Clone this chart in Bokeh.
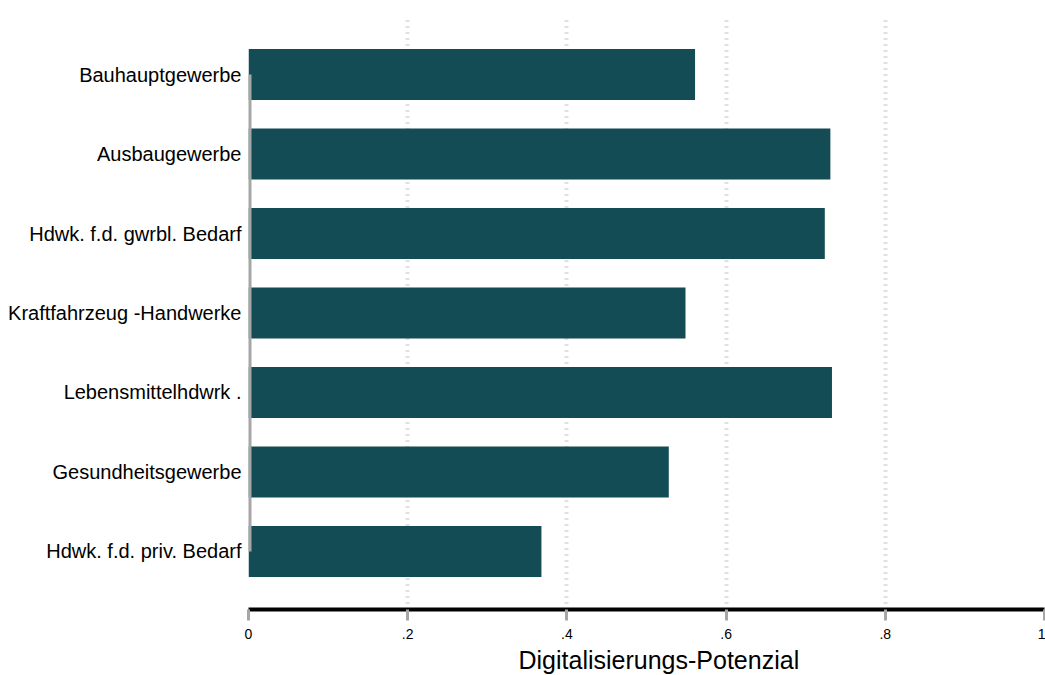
from bokeh.plotting import figure
from bokeh.models import FactorRange, Range1d, FixedTicker, Title
from bokeh.embed import file_html
from bokeh.resources import INLINE

categories = ["Bauhauptgewerbe", "Ausbaugewerbe", "Hdwk. f.d. gwrbl. Bedarf",
              "Kraftfahrzeug -Handwerke", "Lebensmittelhdwrk .", "Gesundheitsgewerbe",
              "Hdwk. f.d. priv. Bedarf"]
values = [0.561, 0.731, 0.724, 0.549, 0.733, 0.528, 0.368]
tick_values = [0, 0.2, 0.4, 0.6, 0.8, 1.0]
tick_labels = ["0", ".2", ".4", ".6", ".8", "1"]
x_label = "Digitalisierungs-Potenzial"

FONT = "Liberation Sans"

p = figure(width=1045, height=675, output_backend="svg", toolbar_location=None,
           y_range=FactorRange(*list(reversed(categories)), range_padding=0.23,
                               range_padding_units="absolute"),
           x_range=Range1d(0, 1),
           min_border_left=248, min_border_right=1, min_border_top=16, min_border_bottom=0)

p.hbar(y=categories, right=values, left=0, height=0.64, color="#144c55", line_color=None)
p.segment(x0=[0], y0=[categories[0]], x1=[0], y1=[categories[-1]],
          line_color="#a6a6a6", line_width=6)

p.outline_line_color = None
p.background_fill_color = "white"
p.border_fill_color = "white"
p.ygrid.grid_line_color = None
p.xgrid.grid_line_color = "#c4c4c4"
p.xgrid.grid_line_width = 4
p.xgrid.grid_line_dash = "1 5"

xa = p.xaxis[0]
xa.ticker = FixedTicker(ticks=tick_values)
xa.major_label_overrides = {v: l for v, l in zip(tick_values, tick_labels)}
xa.axis_line_color = "black"
xa.axis_line_width = 4
xa.major_tick_line_color = "#a6a6a6"
xa.major_tick_line_width = 3
xa.major_tick_in = 0
xa.major_tick_out = 11
xa.minor_tick_line_color = None
xa.major_label_text_font = FONT
xa.major_label_text_font_size = "14px"
xa.major_label_text_color = "black"
xa.major_label_standoff = 8

t = Title(text=x_label, align="left", offset=270, standoff=4,
          text_font=FONT, text_font_size="25px", text_font_style="normal",
          text_color="black")
p.add_layout(t, "below")

ya = p.yaxis[0]
ya.axis_line_color = None
ya.major_tick_line_color = None
ya.major_tick_out = 0
ya.major_tick_in = 0
ya.minor_tick_line_color = None
ya.major_label_text_font = FONT
ya.major_label_text_font_size = "20px"
ya.major_label_text_color = "black"
ya.major_label_standoff = 7

open("out.html", "w").write(file_html(p, INLINE))
